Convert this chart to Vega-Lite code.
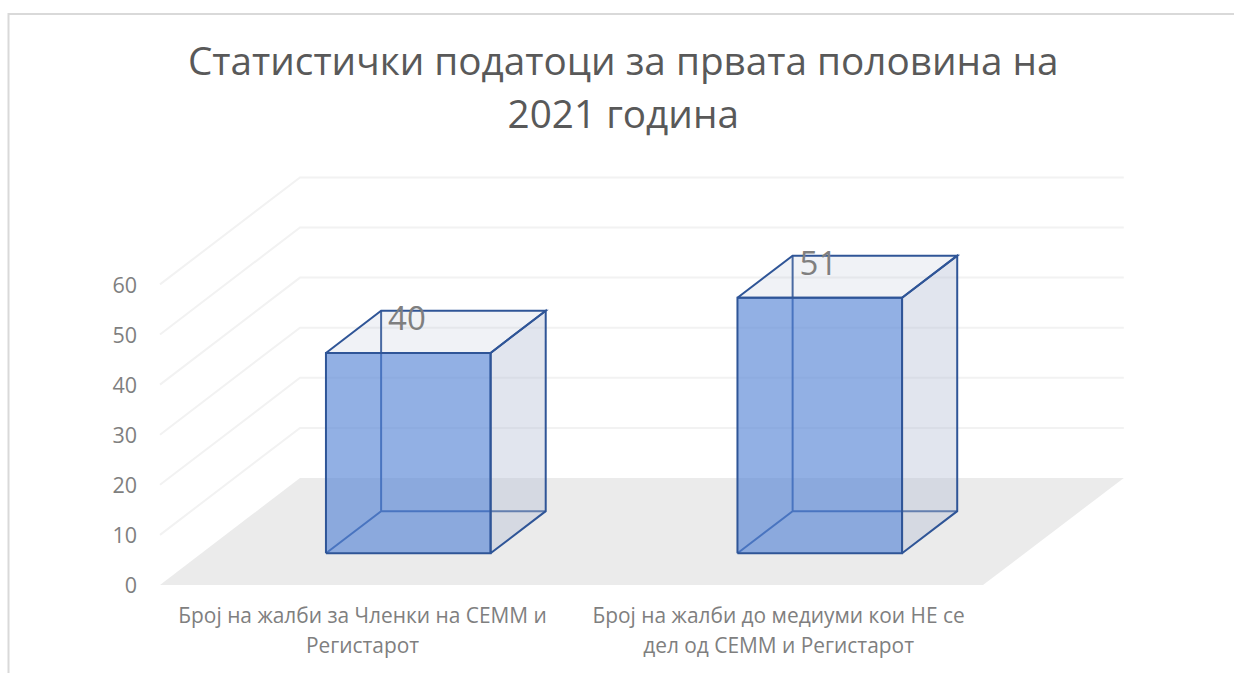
{
"$schema":"https://vega.github.io/schema/vega-lite/v6.json",
"width":1225.5,"height":659,
"padding":{"left":8.5,"top":14,"right":0,"bottom":0},
"autosize":{"type":"none"},
"background":"white",
"view":{"stroke":null},
"title":{"text":["Статистички податоци за првата половина на","2021 година"],"font":"Open Sans","fontSize":38.7,"fontWeight":"normal","color":"#595959","anchor":"middle","frame":"group","baseline":"alphabetic","offset":-157,"dx":2,"lineHeight":53},
"data":{"values":[
{"category":"Број на жалби за Членки на СЕММ и Регистарот","value":40},
{"category":"Број на жалби до медиуми кои НЕ се дел од СЕММ и Регистарот","value":51}
]},
"transform":[
{"window":[{"op":"row_number","as":"n"}]},
{"calculate":"datum.n-1","as":"slot"},
{"calculate":"[{f:'inner',i:0,u:0,d:1,h:1},{f:'inner',i:1,u:0,d:1,h:0},{f:'inner',i:2,u:1,d:1,h:0},{f:'inner',i:3,u:0,d:1,h:0},{f:'inner',i:4,u:0,d:0,h:0},{f:'right',i:0,u:1,d:0,h:0},{f:'right',i:1,u:1,d:1,h:0},{f:'right',i:2,u:1,d:1,h:1},{f:'right',i:3,u:1,d:0,h:1},{f:'right',i:4,u:1,d:0,h:0},{f:'top',i:0,u:0,d:0,h:1},{f:'top',i:1,u:1,d:0,h:1},{f:'top',i:2,u:1,d:1,h:1},{f:'top',i:3,u:0,d:1,h:1},{f:'top',i:4,u:0,d:0,h:1},{f:'front',i:0,u:0,d:0,h:0},{f:'front',i:1,u:1,d:0,h:0},{f:'front',i:2,u:1,d:0,h:1},{f:'front',i:3,u:0,d:0,h:1},{f:'front',i:4,u:0,d:0,h:0}]","as":"corners"},
{"flatten":["corners"],"as":["c"]},
{"calculate":"0.296+datum.c.d*0.394","as":"depth"},
{"calculate":"datum.slot+0.3026+datum.c.u*0.4+datum.depth*0.3402","as":"px"},
{"calculate":"datum.value*datum.c.h+datum.depth*21.36","as":"py"},
{"calculate":"datum.c.f","as":"face"},
{"calculate":"datum.c.i","as":"step"}
],
"encoding":{
"x":{"field":"px","type":"quantitative","scale":{"domain":[-0.36816,2.60996],"nice":false,"zero":false},
"axis":{"title":null,"orient":"bottom","domain":false,"ticks":false,"grid":false,"values":[0.491,1.502],"labelPadding":-68,"labelFont":"Open Sans","labelFontSize":20.9,"labelColor":"#7f7f7f","labelLineHeight":30,"labelLimit":600,"labelOverlap":false,"labelBound":false,"labelFlush":false,"labelAlign":"center","labelBaseline":"top","labelExpr":"datum.value<1?['Број на жалби за Членки на СЕММ и','Регистарот']:['Број на жалби до медиуми кои НЕ се','дел од СЕММ и Регистарот']"}},
"y":{"field":"py","type":"quantitative","scale":{"domain":[-17.565,113.972],"nice":false,"zero":false},
"axis":{"title":null,"domain":false,"ticks":false,"grid":false,"values":[0,10,20,30,40,50,60],"labelPadding":-128,"labelOffset":2,"labelFont":"Open Sans","labelFontSize":21.5,"labelColor":"#7f7f7f","labelOverlap":false,"labelBound":false,"labelFlush":false,"format":"d"}}
},
"layer":[
{"data":{"values":[{"edge":"frame"}]},
"transform":[
{"calculate":"[{i:0,a:-0.36816,b:-17.565},{i:1,a:-0.36816,b:113.972},{i:2,a:2.60996,b:113.972}]","as":"corners"},
{"flatten":["corners"],"as":["c"]},
{"calculate":"datum.c.a","as":"px"},
{"calculate":"datum.c.b","as":"py"},
{"calculate":"datum.c.i","as":"step"}
],
"mark":{"type":"line","stroke":"#d9d9d9","strokeWidth":2,"clip":false},
"encoding":{"order":{"field":"step","type":"quantitative"}}},
{"data":{"values":[{"level":10},{"level":20},{"level":30},{"level":40},{"level":50},{"level":60}]},
"transform":[
{"calculate":"[{i:0,u:0,d:0},{i:1,u:0,d:1},{i:2,u:2.002,d:1}]","as":"corners"},
{"flatten":["corners"],"as":["c"]},
{"calculate":"datum.c.u+datum.c.d*0.3402","as":"px"},
{"calculate":"datum.level+datum.c.d*21.36","as":"py"},
{"calculate":"datum.c.i","as":"step"}
],
"mark":{"type":"line","stroke":"#f2f2f2","strokeWidth":2},
"encoding":{"detail":{"field":"level"},"order":{"field":"step","type":"quantitative"}}},
{"data":{"values":[{"plane":"floor"}]},
"transform":[
{"calculate":"[{i:0,u:0,d:0},{i:1,u:2,d:0},{i:2,u:2.002,d:1},{i:3,u:0,d:1},{i:4,u:0,d:0}]","as":"corners"},
{"flatten":["corners"],"as":["c"]},
{"calculate":"datum.c.u+datum.c.d*0.3402","as":"px"},
{"calculate":"datum.c.d*21.36","as":"py"},
{"calculate":"datum.c.i","as":"step"}
],
"mark":{"type":"line","fill":"#ebebeb","stroke":null},
"encoding":{"order":{"field":"step","type":"quantitative"}}},
{"transform":[{"filter":"datum.face=='inner'"}],"mark":{"type":"line","stroke":"#2f5597","strokeWidth":2,"fill":null},"encoding":{"detail":{"field":"slot"},"order":{"field":"step","type":"quantitative"}}},
{"transform":[{"filter":"datum.face=='right'"}],"mark":{"type":"line","stroke":"#2f5597","strokeWidth":2,"fill":"#b4bed4","fillOpacity":0.4},"encoding":{"detail":{"field":"slot"},"order":{"field":"step","type":"quantitative"}}},
{"transform":[{"filter":"datum.face=='top'"}],"mark":{"type":"line","stroke":"#2f5597","strokeWidth":2,"fill":"#b4bed4","fillOpacity":0.2},"encoding":{"detail":{"field":"slot"},"order":{"field":"step","type":"quantitative"}}},
{"transform":[{"filter":"datum.face=='front'"}],"mark":{"type":"line","stroke":"#2f5597","strokeWidth":2,"fill":"#5786d6","fillOpacity":0.65},"encoding":{"detail":{"field":"slot"},"order":{"field":"step","type":"quantitative"}}},
{"transform":[{"filter":"datum.face=='front' && datum.step==0"},{"calculate":"datum.slot+0.6","as":"lx"},{"calculate":"datum.value+12.8","as":"ly"}],
"mark":{"type":"text","font":"Open Sans","fontSize":33,"color":"#7f7f7f","align":"center","baseline":"middle"},
"encoding":{"x":{"field":"lx","type":"quantitative"},"y":{"field":"ly","type":"quantitative"},"text":{"field":"value","type":"quantitative"}}}
]
}
